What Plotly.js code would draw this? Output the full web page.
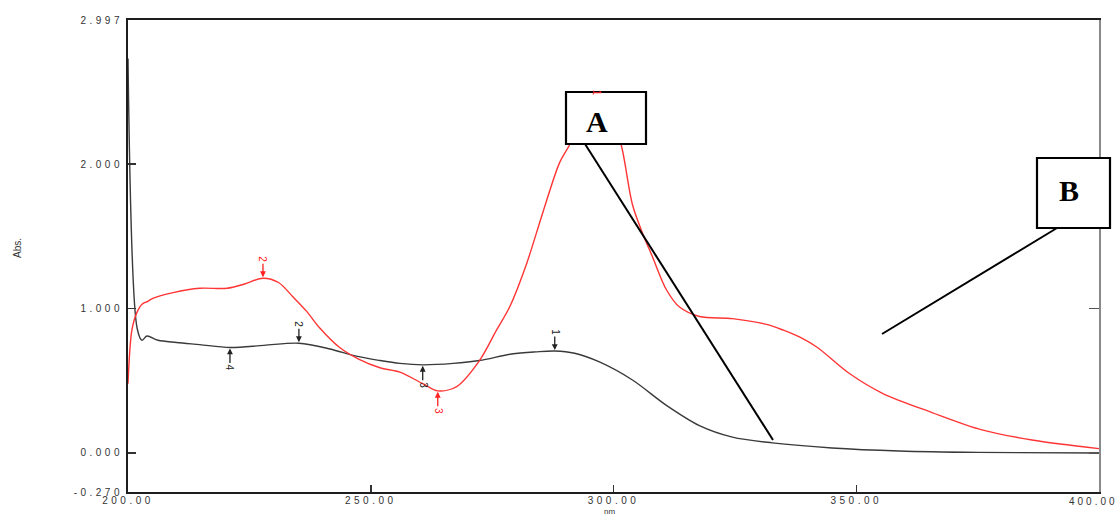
<!DOCTYPE html>
<html>
<head>
<meta charset="utf-8">
<script src="https://cdn.plot.ly/plotly-3.0.1.min.js"></script>
<style>
  html, body { margin: 0; padding: 0; background: #fff; }
  #chart { width: 1120px; height: 516px; }
  .xtick text, .ytick text { letter-spacing: 3.5px; }
</style>
</head>
<body>
<div id="chart"></div>
<script>
// ---- data ----
const blackNm = [200, 201.9, 202.9, 203.9, 206.2, 210, 214.8, 221, 228, 235.2, 241.6, 247, 251.9, 256, 260.7, 267, 272.4, 279, 284, 287.9, 292, 297.1, 303.9, 310.9, 317.7, 324.5, 332.7, 345, 358.8, 375, 400];
const blackAbs = [2.73, 0.86, 0.78, 0.81, 0.78, 0.765, 0.75, 0.73, 0.745, 0.76, 0.72, 0.67, 0.64, 0.62, 0.61, 0.62, 0.64, 0.685, 0.70, 0.706, 0.69, 0.63, 0.505, 0.33, 0.19, 0.11, 0.07, 0.035, 0.014, 0.004, 0.0];

const redNm = [200, 200.8, 201.8, 202.9, 204.1, 205.1, 209.3, 214.8, 220.4, 224, 227.8, 231, 234, 236.8, 239.5, 243.6, 247.5, 251.9, 256, 260.7, 263.8, 267.7, 272.4, 275.9, 278.6, 282.1, 285.4, 288.9, 290.9, 293.5, 296.5, 299.5, 301.6, 303.9, 306, 308, 310.9, 313.6, 317.7, 324.5, 331.5, 335, 338.5, 342, 348.6, 355.3, 365.6, 375.9, 386.2, 400];
const redAbs = [0.48, 0.85, 0.97, 1.03, 1.05, 1.07, 1.11, 1.14, 1.14, 1.17, 1.21, 1.18, 1.08, 0.98, 0.865, 0.73, 0.65, 0.59, 0.56, 0.48, 0.43, 0.46, 0.64, 0.85, 1.01, 1.31, 1.66, 2.01, 2.13, 2.33, 2.40, 2.33, 2.13, 1.72, 1.52, 1.36, 1.13, 1.01, 0.945, 0.93, 0.89, 0.85, 0.80, 0.73, 0.55, 0.415, 0.28, 0.16, 0.09, 0.03];

// peak/valley marks
const blackMarkNm = [287.9, 235.2, 260.7, 221];
const blackMarkText = ['1', '2', '3', '4'];
const blackMarkDir = ['down', 'down', 'up', 'up'];
const redMarkNm = [296.5, 227.8, 263.8];
const redMarkText = ['1', '2', '3'];
const redMarkDir = ['hidden', 'down', 'up'];

const xTickVals = [200, 250, 300, 350, 400];
const xTickText = ['200.00', '250.00', '300.00', '350.00', '400.00'];
const yTickVals = [-0.27, 0, 1, 2, 2.997];
const yTickText = ['-0.270', '0.000', '1.000', '2.000', '2.997'];

// ---- helpers ----
function interp(xs, ys, x) {
  for (let i = 0; i < xs.length - 1; i++) {
    if (x >= xs[i] && x <= xs[i + 1]) {
      const t = (x - xs[i]) / (xs[i + 1] - xs[i]);
      return ys[i] + t * (ys[i + 1] - ys[i]);
    }
  }
  return ys[ys.length - 1];
}

// plot-area pixel geometry (for overlay callouts)
const W = 1120, H = 516, L = 128, R = 21, T = 20, B = 24;
const pw = W - L - R, ph = H - T - B;
const px = v => (v - L) / pw;
const py = v => (H - B - v) / ph;

const traces = [
  { x: blackNm, y: blackAbs, type: 'scatter', mode: 'lines',
    line: { color: '#3a3a3a', width: 1.4, shape: 'spline', smoothing: 0.9 }, hoverinfo: 'skip' },
  { x: redNm, y: redAbs, type: 'scatter', mode: 'lines',
    line: { color: '#ff3535', width: 1.4, shape: 'spline', smoothing: 0.9 }, hoverinfo: 'skip' },
  { x: [], y: [], yaxis: 'y2', type: 'scatter', mode: 'lines', hoverinfo: 'skip' }
];

const annotations = [];
function addMarks(nms, texts, dirs, xs, ys, color) {
  nms.forEach((nm, i) => {
    const dir = dirs[i];
    const base = {
      x: nm, y: interp(xs, ys, nm), xref: 'x', yref: 'y',
      text: texts[i], textangle: 90,
      font: { family: 'Liberation Sans, Arial, sans-serif', size: 10, color: color }
    };
    if (dir === 'hidden') {
      // arrow lies under the callout box; only the label edge shows
      annotations.push(Object.assign(base, { showarrow: false, xanchor: 'center', yanchor: 'middle', yshift: 14 }));
    } else {
      annotations.push(Object.assign(base, {
        showarrow: true, arrowhead: 2, arrowsize: 0.9, arrowwidth: 1.3, arrowcolor: color,
        ax: 0, ay: dir === 'down' ? -19 : 20, standoff: 1, startstandoff: 0
      }));
    }
  });
}
addMarks(blackMarkNm, blackMarkText, blackMarkDir, blackNm, blackAbs, '#222');
addMarks(redMarkNm, redMarkText, redMarkDir, redNm, redAbs, '#ff2020');

// axis titles
annotations.push({ xref: 'paper', yref: 'paper', x: px(17), y: py(248), text: 'Abs.', textangle: -90,
  xanchor: 'center', yanchor: 'middle',
  showarrow: false, font: { family: 'Liberation Sans, Arial, sans-serif', size: 10, color: '#333' } });
annotations.push({ xref: 'paper', yref: 'paper', x: px(609), y: py(516.5), text: 'nm',
  xanchor: 'center', yanchor: 'bottom', borderpad: 0,
  showarrow: false, font: { family: 'Liberation Sans, Arial, sans-serif', size: 8, color: '#333' } });
// callout letters
annotations.push({ xref: 'paper', yref: 'paper', x: px(597), y: py(121), text: '<b>A</b>', showarrow: false,
  xanchor: 'center', yanchor: 'middle',
  font: { family: 'Liberation Serif, Times New Roman, serif', size: 30, color: '#000' } });
annotations.push({ xref: 'paper', yref: 'paper', x: px(1069), y: py(190), text: '<b>B</b>', showarrow: false,
  xanchor: 'center', yanchor: 'middle',
  font: { family: 'Liberation Serif, Times New Roman, serif', size: 30, color: '#000' } });

// last x tick label: drawn near the page edge so it is not clipped
const lastIdx = xTickText.length - 1;
const lastAnnIndex = annotations.length;
annotations.push({ xref: 'paper', yref: 'paper', x: px(1093), y: py(501), text: xTickText[lastIdx],
  xanchor: 'center', yanchor: 'middle', showarrow: false, borderpad: 0,
  font: { family: 'Liberation Sans, Arial, sans-serif', size: 10, color: '#333' } });
const styleEl = document.createElement('style');
styleEl.textContent = 'g.annotation[data-index="' + lastAnnIndex + '"] text { letter-spacing: 3px; }';
document.head.appendChild(styleEl);
const shownXTickText = xTickText.map((t, i) => (i === lastIdx ? '' : t));

const shapes = [
  { type: 'line', xref: 'paper', yref: 'paper', x0: px(585), y0: py(144), x1: px(773), y1: py(440),
    line: { color: '#000', width: 2 }, layer: 'above' },
  { type: 'rect', xref: 'paper', yref: 'paper', x0: px(566), y0: py(92), x1: px(646), y1: py(144),
    fillcolor: '#fff', line: { color: '#000', width: 2.2 }, layer: 'above' },
  { type: 'line', xref: 'paper', yref: 'paper', x0: px(1057), y0: py(228), x1: px(882), y1: py(334),
    line: { color: '#000', width: 2 }, layer: 'above' },
  { type: 'rect', xref: 'paper', yref: 'paper', x0: px(1037), y0: py(158), x1: px(1110), y1: py(228),
    fillcolor: '#fff', line: { color: '#000', width: 2.2 }, layer: 'above' }
];

const tickFont = { family: 'Liberation Sans, Arial, sans-serif', size: 10, color: '#333' };

const layout = {
  width: W, height: H,
  margin: { l: L, r: R, t: T, b: B, pad: 0 },
  paper_bgcolor: '#fff', plot_bgcolor: '#fff',
  showlegend: false,
  xaxis: {
    range: [200, 400], tickvals: xTickVals, ticktext: shownXTickText,
    ticks: 'inside', ticklen: 7, tickwidth: 1.5, tickcolor: '#333',
    showline: true, linecolor: '#1e1e1e', linewidth: 2, mirror: true,
    showgrid: false, zeroline: false, tickfont: tickFont, ticklabelstandoff: -2
  },
  yaxis: {
    range: [-0.27, 2.997], tickvals: yTickVals, ticktext: yTickText,
    ticks: 'inside', ticklen: 8, tickwidth: 1.5, tickcolor: '#333',
    showline: true, linecolor: '#1e1e1e', linewidth: 2, mirror: false,
    showgrid: false, zeroline: false, tickfont: tickFont, ticklabelstandoff: 1,
    ticklabeloverflow: 'allow'
  },
  yaxis2: {
    overlaying: 'y', side: 'right', range: [-0.27, 2.997], tickvals: [0, 1, 2],
    ticks: 'inside', ticklen: 10, tickwidth: 1.5, tickcolor: '#555',
    showticklabels: false, showline: true, linecolor: '#8a8a8a', linewidth: 2,
    showgrid: false, zeroline: false
  },
  annotations: annotations,
  shapes: shapes
};

Plotly.newPlot('chart', traces, layout, { staticPlot: true, displayModeBar: false });
</script>
</body>
</html>
